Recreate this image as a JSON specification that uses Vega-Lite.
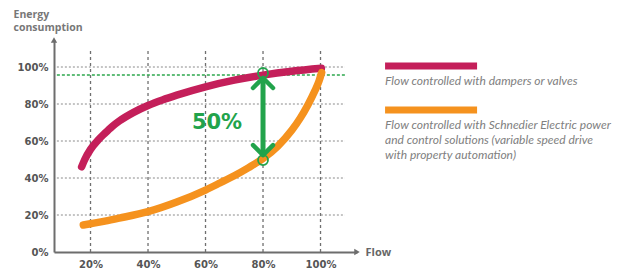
{
  "$schema": "https://vega.github.io/schema/vega-lite/v6.json",
  "width": 303,
  "height": 212,
  "autosize": {"type": "none"},
  "padding": {"left": 54, "top": 40, "right": 262, "bottom": 17},
  "background": "white",
  "config": {
    "view": {"stroke": null},
    "axis": {
      "ticks": false,
      "grid": false,
      "labelFont": "DejaVu Sans",
      "labelFontWeight": "bold",
      "labelFontSize": 10,
      "labelColor": "#555555",
      "domainColor": "#6d6d6d",
      "domainWidth": 2
    }
  },
  "datasets": {
    "curves": [
      {"series": "Dampers or valves", "flow": 16.9, "energy": 46},
      {"series": "Dampers or valves", "flow": 18, "energy": 50},
      {"series": "Dampers or valves", "flow": 20, "energy": 55.5},
      {"series": "Dampers or valves", "flow": 22.5, "energy": 60.3},
      {"series": "Dampers or valves", "flow": 25, "energy": 64.2},
      {"series": "Dampers or valves", "flow": 27.5, "energy": 67.8},
      {"series": "Dampers or valves", "flow": 30, "energy": 70.8},
      {"series": "Dampers or valves", "flow": 35, "energy": 75.5},
      {"series": "Dampers or valves", "flow": 40, "energy": 79.2},
      {"series": "Dampers or valves", "flow": 45, "energy": 82.2},
      {"series": "Dampers or valves", "flow": 50, "energy": 84.8},
      {"series": "Dampers or valves", "flow": 60, "energy": 89.3},
      {"series": "Dampers or valves", "flow": 70, "energy": 92.9},
      {"series": "Dampers or valves", "flow": 80, "energy": 95.6},
      {"series": "Dampers or valves", "flow": 90, "energy": 97.7},
      {"series": "Dampers or valves", "flow": 100.3, "energy": 99.3},
      {"series": "Schneider Electric VSD", "flow": 17.5, "energy": 14.6},
      {"series": "Schneider Electric VSD", "flow": 20, "energy": 15.3},
      {"series": "Schneider Electric VSD", "flow": 25, "energy": 16.7},
      {"series": "Schneider Electric VSD", "flow": 30, "energy": 18.3},
      {"series": "Schneider Electric VSD", "flow": 40, "energy": 21.8},
      {"series": "Schneider Electric VSD", "flow": 50, "energy": 27},
      {"series": "Schneider Electric VSD", "flow": 60, "energy": 33.5},
      {"series": "Schneider Electric VSD", "flow": 65, "energy": 37.3},
      {"series": "Schneider Electric VSD", "flow": 70, "energy": 41.2},
      {"series": "Schneider Electric VSD", "flow": 75, "energy": 45.6},
      {"series": "Schneider Electric VSD", "flow": 80, "energy": 50.5},
      {"series": "Schneider Electric VSD", "flow": 85, "energy": 57},
      {"series": "Schneider Electric VSD", "flow": 90, "energy": 65.8},
      {"series": "Schneider Electric VSD", "flow": 93, "energy": 72.5},
      {"series": "Schneider Electric VSD", "flow": 95.6, "energy": 79.5},
      {"series": "Schneider Electric VSD", "flow": 98, "energy": 87},
      {"series": "Schneider Electric VSD", "flow": 99.5, "energy": 92.5},
      {"series": "Schneider Electric VSD", "flow": 100.4, "energy": 97}
    ],
    "grid": [{"v": 20}, {"v": 40}, {"v": 60}, {"v": 80}, {"v": 100}],
    "legend": [
      {"order": 1, "series": "Dampers or valves", "label": "Flow controlled with dampers or valves"},
      {"order": 2, "series": "Schneider Electric VSD", "label": "Flow controlled with Schnedier Electric power\nand control solutions (variable speed drive\nwith property automation)"}
    ]
  },
  "layer": [
    {
      "layer": [
        {
          "data": {"name": "grid"},
          "mark": {"type": "rule", "strokeDash": [3, 3], "color": "#6f6f6f", "strokeWidth": 1.3},
          "encoding": {
            "x": {"field": "v", "type": "quantitative", "scale": {"domain": [7.3, 112.69], "nice": false, "zero": false}},
            "y": {"datum": 0, "type": "quantitative"},
            "y2": {"datum": 109.2}
          }
        },
        {
          "data": {"name": "grid"},
          "mark": {"type": "rule", "strokeDash": [2, 2], "color": "#8a8a8a", "strokeWidth": 1},
          "encoding": {
            "y": {"field": "v", "type": "quantitative", "scale": {"domain": [0, 114.6], "nice": false, "zero": false}},
            "x": {"datum": 8.3, "type": "quantitative"},
            "x2": {"datum": 108.5}
          }
        },
        {
          "data": {"values": [{}]},
          "mark": {"type": "rule", "strokeDash": [3, 2], "color": "#2ea84e", "strokeWidth": 1.5},
          "encoding": {
            "y": {"datum": 95.68, "type": "quantitative"},
            "x": {"datum": 8.3, "type": "quantitative"},
            "x2": {"datum": 108.5}
          }
        },
        {
          "data": {"name": "curves"},
          "mark": {"type": "line", "strokeWidth": 7.5, "strokeCap": "round", "interpolate": "monotone"},
          "encoding": {
            "x": {
              "field": "flow", "type": "quantitative",
              "scale": {"domain": [7.3, 112.69], "nice": false, "zero": false},
              "axis": {
                "values": [20, 40, 60, 80, 100],
                "labelExpr": "datum.value + '%'",
                "labelPadding": 7,
                "title": "Flow",
                "titleAngle": 0,
                "titleAlign": "left",
                "titleBaseline": "middle",
                "titleX": 311,
                "titleY": 0,
                "titleFont": "Open Sans",
                "titleFontWeight": "bold",
                "titleFontSize": 11,
                "titleColor": "#666666"
              }
            },
            "y": {
              "field": "energy", "type": "quantitative",
              "scale": {"domain": [0, 114.6], "nice": false, "zero": false},
              "axis": {
                "values": [0, 20, 40, 60, 80, 100],
                "labelExpr": "datum.value + '%'",
                "labelPadding": 6,
                "title": ["Energy", "consumption"],
                "titleAngle": 0,
                "titleAlign": "left",
                "titleBaseline": "alphabetic",
                "titleX": -41,
                "titleY": -23,
                "titleLineHeight": 13.5,
                "titleFont": "Open Sans",
                "titleFontWeight": "bold",
                "titleFontSize": 10.5,
                "titleColor": "#777777"
              }
            },
            "color": {
              "field": "series", "type": "nominal",
              "scale": {"domain": ["Dampers or valves", "Schneider Electric VSD"], "range": ["#c41f5a", "#f5921e"]},
              "legend": null
            }
          }
        },
        {
          "data": {"values": [{}]},
          "mark": {"type": "point", "shape": "triangle-right", "filled": true, "size": 40, "color": "#6d6d6d", "opacity": 1},
          "encoding": {
            "x": {"datum": 112.69, "type": "quantitative"},
            "y": {"datum": 0, "type": "quantitative"}
          }
        },
        {
          "data": {"values": [{}]},
          "mark": {"type": "point", "shape": "triangle-up", "filled": true, "size": 40, "color": "#6d6d6d", "opacity": 1},
          "encoding": {
            "x": {"datum": 7.3, "type": "quantitative"},
            "y": {"datum": 114.6, "type": "quantitative"}
          }
        },
        {
          "data": {"values": [{}]},
          "mark": {"type": "rule", "color": "#22a34b", "strokeWidth": 5},
          "encoding": {
            "x": {"datum": 80, "type": "quantitative"},
            "y": {"datum": 52.4, "type": "quantitative"},
            "y2": {"datum": 93.5}
          }
        },
        {
          "data": {"values": [{}]},
          "mark": {"type": "point", "shape": "M-1,0.5L0,-0.5L1,0.5", "filled": false, "size": 400, "color": "#22a34b", "strokeWidth": 4.5, "strokeCap": "round", "strokeJoin": "round", "opacity": 1},
          "encoding": {
            "x": {"datum": 80, "type": "quantitative"},
            "y": {"datum": 91.35, "type": "quantitative"}
          }
        },
        {
          "data": {"values": [{}]},
          "mark": {"type": "point", "shape": "M-1,-0.5L0,0.5L1,-0.5", "filled": false, "size": 400, "color": "#22a34b", "strokeWidth": 4.5, "strokeCap": "round", "strokeJoin": "round", "opacity": 1},
          "encoding": {
            "x": {"datum": 80, "type": "quantitative"},
            "y": {"datum": 55.1, "type": "quantitative"}
          }
        },
        {
          "data": {"values": [{"flow": 80, "energy": 96.76}, {"flow": 80, "energy": 49.7}]},
          "mark": {"type": "point", "shape": "circle", "filled": false, "size": 100, "color": "#22a34b", "strokeWidth": 1.8, "opacity": 1},
          "encoding": {
            "x": {"field": "flow", "type": "quantitative"},
            "y": {"field": "energy", "type": "quantitative"}
          }
        },
        {
          "data": {"values": [{"flow": 64, "energy": 69.7, "label": "50%"}]},
          "mark": {"type": "text", "font": "DejaVu Sans", "fontWeight": "bold", "fontSize": 21, "color": "#22a34b", "align": "center", "baseline": "middle"},
          "encoding": {
            "x": {"field": "flow", "type": "quantitative"},
            "y": {"field": "energy", "type": "quantitative"},
            "text": {"field": "label"}
          }
        }
      ]
    },
    {
      "data": {"name": "legend"},
      "layer": [
        {
          "mark": {"type": "rule", "strokeWidth": 7},
          "encoding": {
            "y": {"field": "order", "type": "quantitative", "scale": {"domain": [0.409, 5.227], "reverse": true, "nice": false, "zero": false}, "axis": null},
            "x": {"datum": 0, "type": "quantitative", "scale": {"domain": [-3.598, -0.305], "nice": false, "zero": false}, "axis": null},
            "x2": {"datum": 1},
            "color": {
              "field": "series", "type": "nominal",
              "scale": {"domain": ["Dampers or valves", "Schneider Electric VSD"], "range": ["#c41f5a", "#f5921e"]},
              "legend": null
            }
          }
        },
        {
          "mark": {"type": "text", "align": "left", "baseline": "middle", "dy": 14.5, "lineBreak": "\n", "lineHeight": 15, "font": "Lato", "fontStyle": "italic", "fontSize": 12, "color": "#808080"},
          "encoding": {
            "y": {"field": "order", "type": "quantitative", "axis": null},
            "x": {"datum": 0, "type": "quantitative", "axis": null},
            "text": {"field": "label"}
          }
        }
      ]
    }
  ],
  "resolve": {"scale": {"x": "independent", "y": "independent"}}
}
